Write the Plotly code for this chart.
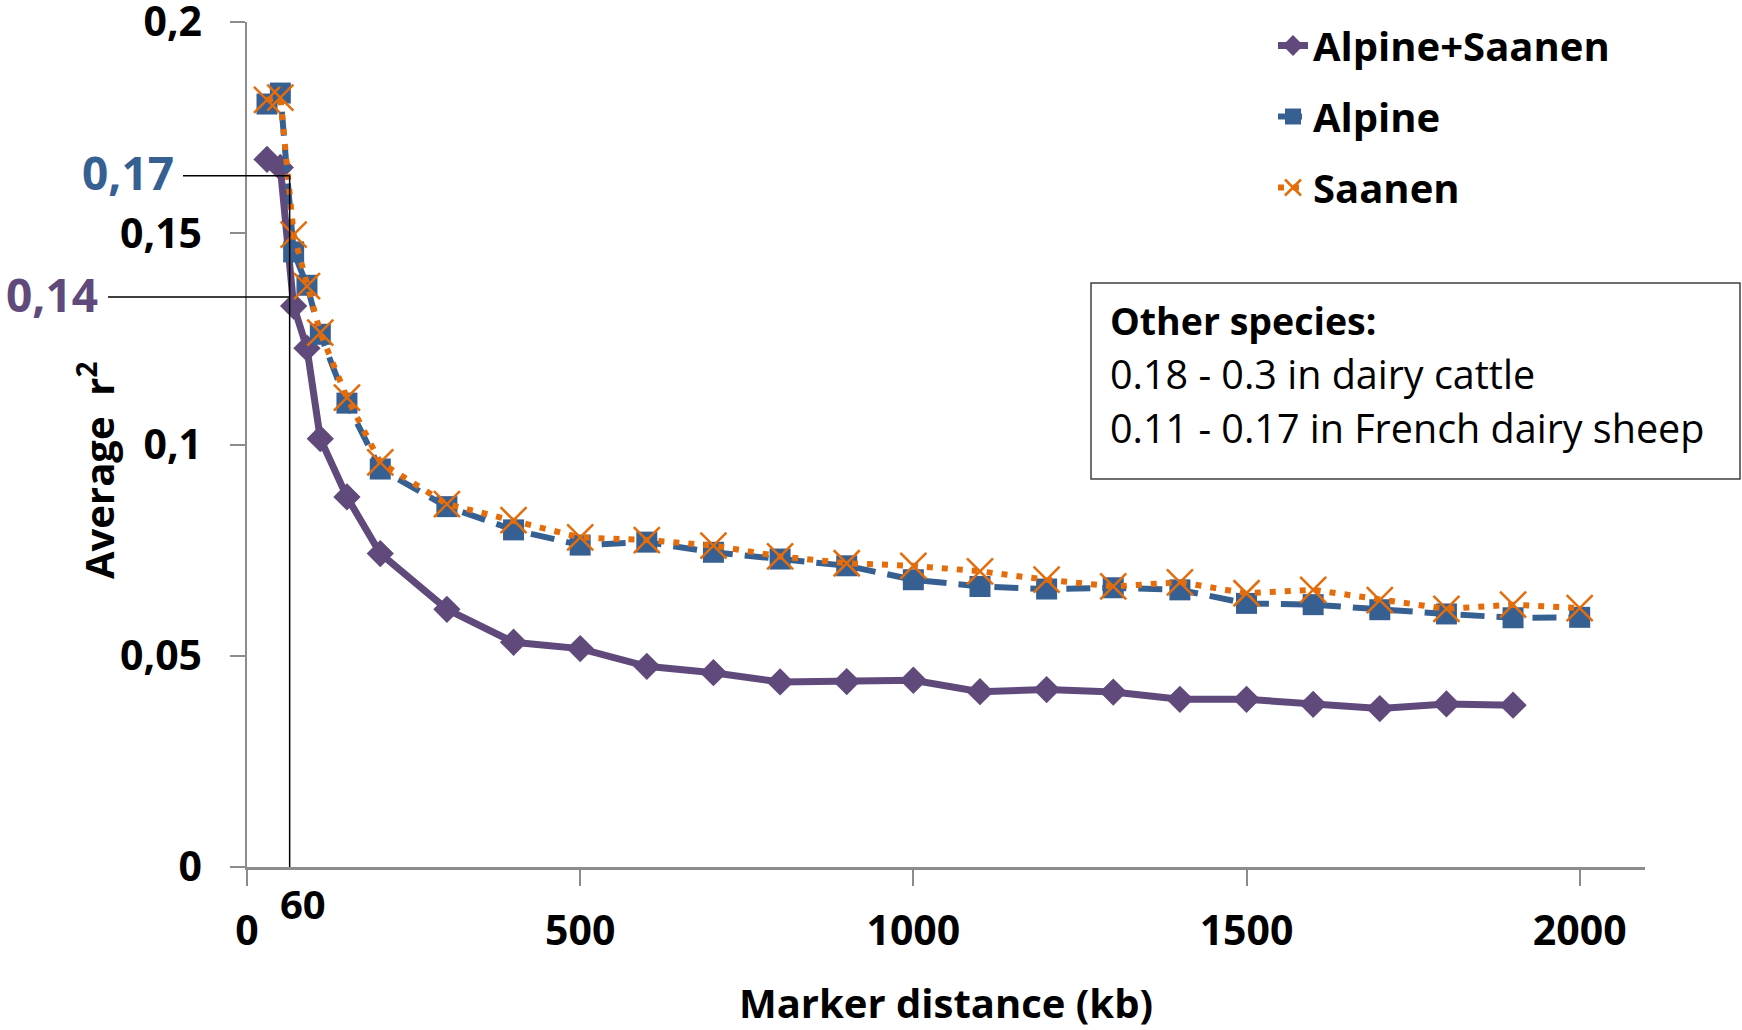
import plotly.graph_objects as go

# ---------------- data ----------------
dist_all = [30, 50, 70, 90, 110, 150, 200, 300, 400, 500, 600, 700, 800, 900, 1000,
            1100, 1200, 1300, 1400, 1500, 1600, 1700, 1800, 1900]
r2_alpine_saanen = [0.1675, 0.1656, 0.1328, 0.1228, 0.1014, 0.0876, 0.0742, 0.0610,
                    0.0532, 0.0517, 0.0475, 0.0460, 0.0438, 0.0439, 0.0442, 0.0415,
                    0.0420, 0.0414, 0.0397, 0.0397, 0.0385, 0.0375, 0.0386, 0.0383]

dist_breed = [30, 50, 70, 90, 110, 150, 200, 300, 400, 500, 600, 700, 800, 900, 1000,
              1100, 1200, 1300, 1400, 1500, 1600, 1700, 1800, 1900, 2000]
r2_alpine = [0.1806, 0.1832, 0.1456, 0.1377, 0.1261, 0.1098, 0.0942, 0.0853, 0.0798,
             0.0762, 0.0769, 0.0745, 0.0729, 0.0713, 0.0680, 0.0664, 0.0658, 0.0661,
             0.0656, 0.0624, 0.0621, 0.0609, 0.0599, 0.0590, 0.0591]
r2_saanen = [0.1816, 0.1821, 0.1497, 0.1375, 0.1265, 0.1111, 0.0958, 0.0859, 0.0821,
             0.0780, 0.0774, 0.0761, 0.0735, 0.0719, 0.0713, 0.0700, 0.0680, 0.0664,
             0.0674, 0.0648, 0.0656, 0.0632, 0.0611, 0.0621, 0.0613]

series_names = ["Alpine+Saanen", "Alpine", "Saanen"]

x_tickvals = [0, 500, 1000, 1500, 2000]
x_ticktext = ["0", "500", "1000", "1500", "2000"]
y_tickvals = [0, 0.05, 0.1, 0.15, 0.2]
y_ticktext = ["0", "0,05", "0,1", "0,15", "0,2"]

# reference guide lines (as drawn on the chart)
guide_x = 64
guide_label_x = "60"
guide_y_alpine = 0.1636
guide_label_alpine = "0,17"
guide_y_all = 0.1349
guide_label_all = "0,14"

box_title = "Other species:"
box_lines = ["0.18 - 0.3 in dairy cattle", "0.11 - 0.17 in French dairy sheep"]

# ---------------- style ----------------
PURPLE = "#604A7B"
BLUE = "#376092"
ORANGE = "#E46C0A"
FONT = "Open Sans"
X_MAX = 2098
Y_MAX = 0.2

W, H = 1742, 1030
ML, MR, MT, MB = 247, 97, 22, 163
PW = W - ML - MR
PH = H - MT - MB


def px_x(px):
    return (px - ML) / PW


def px_y(py):
    return (H - MB - py) / PH


fig = go.Figure()
fig.add_trace(go.Scatter(
    x=dist_all, y=r2_alpine_saanen, name=series_names[0], mode="lines+markers",
    line=dict(color=PURPLE, width=7), legendgroup="a",
    marker=dict(symbol="diamond", size=21, color=PURPLE)))
fig.add_trace(go.Scatter(
    x=dist_breed, y=r2_alpine, name=series_names[1], mode="lines+markers",
    line=dict(color=BLUE, width=6, dash="24px,12px"), legendgroup="b",
    marker=dict(symbol="square", size=21, color=BLUE)))
fig.add_trace(go.Scatter(
    x=dist_breed, y=r2_saanen, name=series_names[2], mode="lines+markers",
    line=dict(color=ORANGE, width=6, dash="6px,9px"), legendgroup="c",
    marker=dict(symbol="x-thin", size=26, line=dict(color=ORANGE, width=2.5), color=ORANGE)))

fig.update_layout(
    width=W, height=H, autosize=False,
    margin=dict(l=ML, r=MR, t=MT, b=MB, autoexpand=False),
    paper_bgcolor="white", plot_bgcolor="white",
    font=dict(family=FONT, color="black", size=40),
    showlegend=True,
    legend=dict(x=px_x(1273), y=px_y(13), xanchor="left", yanchor="top",
                font=dict(family=FONT, size=40, color="black", weight="bold"),
                tracegroupgap=16, bgcolor="rgba(0,0,0,0)"),
    xaxis=dict(range=[0, X_MAX], tickvals=x_tickvals, ticktext=x_ticktext, automargin=False,
               showgrid=False, zeroline=False, showline=True, linecolor="#8C8C8C",
               linewidth=3, ticks="outside", ticklen=16, tickcolor="#8C8C8C", tickwidth=1.5,
               tickfont=dict(family=FONT, size=41, color="black", weight="bold"),
               ticklabelstandoff=10,
               title=dict(text="Marker distance (kb)", standoff=45,
                          font=dict(family=FONT, size=40, color="black", weight="bold"))),
    yaxis=dict(range=[0, Y_MAX * 1.0001], tickvals=y_tickvals, ticktext=y_ticktext, automargin=False,
               showgrid=False, zeroline=False, showline=True, linecolor="#8C8C8C",
               linewidth=1.5, ticks="outside", ticklen=15, tickcolor="#8C8C8C", tickwidth=1.5,
               tickfont=dict(family=FONT, size=41, color="black", weight="bold"),
               ticklabelstandoff=20, ticklabeloverflow="allow"),
)

# y-axis title
fig.add_annotation(text="Average  r<sup>2</sup>", textangle=-90, xref="paper", yref="paper",
                   x=px_x(96), y=px_y(470), showarrow=False, xanchor="center", yanchor="middle",
                   font=dict(family=FONT, size=40, color="black", weight="bold"))

# guide lines
fig.add_shape(type="line", xref="x", yref="y", x0=guide_x, x1=guide_x,
              y0=-0.0012, y1=guide_y_alpine, line=dict(color="black", width=1.5))
fig.add_shape(type="line", xref="paper", yref="y", x0=px_x(183), x1=guide_x / X_MAX,
              y0=guide_y_alpine, y1=guide_y_alpine, line=dict(color="black", width=1.5))
fig.add_shape(type="line", xref="paper", yref="y", x0=px_x(108), x1=guide_x / X_MAX,
              y0=guide_y_all, y1=guide_y_all, line=dict(color="black", width=1.5))

fig.add_annotation(text=guide_label_alpine, xref="paper", yref="paper", x=px_x(176), y=px_y(172),
                   xanchor="right", yanchor="middle", showarrow=False,
                   font=dict(family=FONT, size=46, color=BLUE, weight="bold"))
fig.add_annotation(text=guide_label_all, xref="paper", yref="paper", x=px_x(100), y=px_y(294),
                   xanchor="right", yanchor="middle", showarrow=False,
                   font=dict(family=FONT, size=46, color=PURPLE, weight="bold"))
fig.add_annotation(text=guide_label_x, xref="x", yref="paper", x=guide_x + 20, y=px_y(904),
                   xanchor="center", yanchor="middle", showarrow=False,
                   font=dict(family=FONT, size=40, color="black", weight="bold"))

# "Other species" box
fig.add_shape(type="rect", xref="paper", yref="paper", x0=px_x(1091), x1=px_x(1740),
              y0=px_y(479), y1=px_y(283), line=dict(color="#404040", width=1.5),
              fillcolor="rgba(0,0,0,0)")
fig.add_annotation(text=box_title, xref="paper", yref="paper", x=px_x(1108), y=px_y(320),
                   xanchor="left", yanchor="middle", showarrow=False,
                   font=dict(family=FONT, size=37.5, color="black", weight="bold"))
for i, t in enumerate(box_lines):
    fig.add_annotation(text=t, xref="paper", yref="paper", x=px_x(1108), y=px_y(374 + 54 * i),
                       xanchor="left", yanchor="middle", showarrow=False,
                       font=dict(family=FONT, size=39.5, color="black"))

fig.write_html("out.html")
